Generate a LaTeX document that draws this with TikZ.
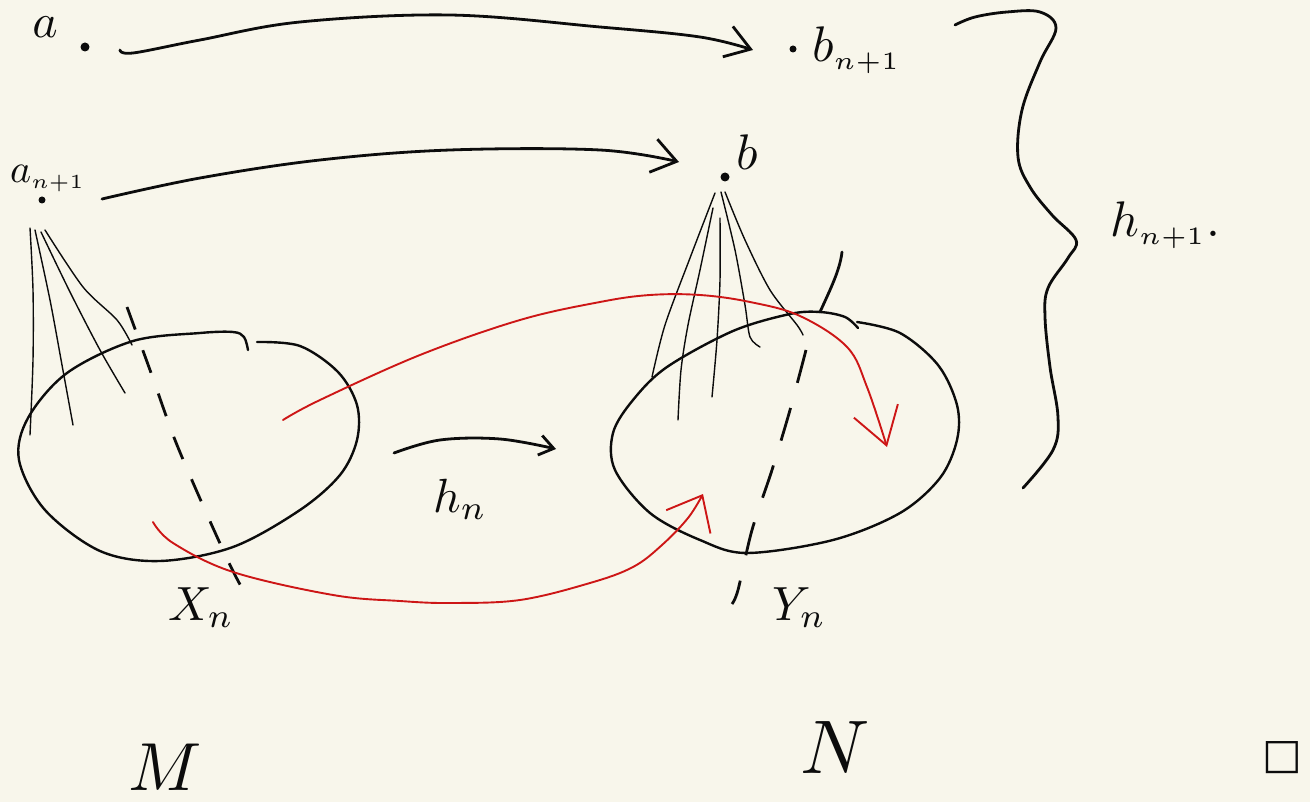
\documentclass[tikz,border=0pt]{standalone}
\usepackage{fontspec}
\usepackage{graphicx}
\usetikzlibrary{arrows.meta}
\newfontfamily\symfont{DejaVu Sans}
\definecolor{paper}{RGB}{248,246,235}
\definecolor{pen}{RGB}{12,12,12}
\definecolor{redpen}{RGB}{205,22,22}
\newcommand{\sz}[2]{\scalebox{#1}{#2}}
\tikzset{
  ink/.style={draw=pen, line width=2.8pt, line cap=round, line join=round},
  thinink/.style={draw=pen, line width=1.4pt, line cap=round, line join=round},
  redink/.style={draw=redpen, line width=1.9pt, line cap=round, line join=round},
  dashink/.style={ink, line cap=butt, dash pattern=on 24pt off 22pt},
  dotnode/.style={circle, fill=pen, inner sep=0pt, minimum size=8pt},
  lab/.style={inner sep=0pt, text=pen}
}
\begin{document}
\begin{tikzpicture}[x=1pt,y=-1pt]
\fill[paper] (0,0) rectangle (1310,802);
\useasboundingbox (0,0) rectangle (1310,802);

% points
\node[dotnode, minimum size=9pt] (adot) at (85,47) {};
\node[dotnode, minimum size=7pt] (bndot) at (793,49) {};
\node[dotnode, minimum size=7pt] (andot) at (42,200) {};
\node[dotnode, minimum size=9pt] (bdot) at (725,177) {};

% labels
\node[lab, anchor=base] (alab) at (45,38) {\sz{4.8}{$a$}};
\node[lab, anchor=base west] (bnlab) at (812,62) {\sz{5}{$b_{\scriptscriptstyle n{+}1}$}};
\node[lab, anchor=base west] (anlab) at (10,183) {\sz{4}{$a_{\scriptscriptstyle n{+}1}$}};
\node[lab, anchor=base west] (blab) at (736,170) {\sz{5}{$b$}};
\node[lab, anchor=base west] (hnlab) at (1110,237) {\sz{5}{$h_{\scriptscriptstyle n{+}1}.$}};
\node[lab, anchor=base west] (hlab) at (433,512) {\sz{4.8}{$h_n$}};
\node[lab, anchor=base west] (Xlab) at (168,620) {\sz{4.8}{$X_n$}};
\node[lab, anchor=base west] (Ylab) at (772,620) {\sz{4.8}{$Y_n$}};
\node[lab, anchor=base west] (Mlab) at (128,790) {\sz{6.8}{$M$}};
\node[lab, anchor=base west] (Nlab) at (800,773) {\sz{7.6}{$N$}};
\node[lab] (qed) at (1282,758) {\sz{4.2}{\symfont □}};

% top arrows
\coordinate (t1s) at (120,50);
\coordinate (t1e) at (753,50);
\draw[ink, -{Straight Barb[length=24pt, width=32pt]}]
  plot[smooth, tension=0.6] coordinates {(t1s) (133,53) (200,40) (300,22) (450,15) (600,27) (700,37) (t1e)};
\coordinate (t2s) at (102,199);
\coordinate (t2e) at (679,162);
\draw[ink, -{Straight Barb[length=24pt, width=34pt]}]
  plot[smooth, tension=0.6] coordinates {(t2s) (200,178) (320,160) (450,150) (600,150) (t2e)};

% brace
\draw[ink] plot[smooth, tension=0.6] coordinates {(955,25) (975,17) (1007,12) (1040,12) (1056,28) (1040,62) (1022,110) (1018,157) (1030,187) (1052,215) (1076,240) (1068,258) (1048,288) (1045,317) (1050,367) (1058,417) (1053,450) (1023,488)};

% left ellipse X_n (with small gap at top)
\draw[ink, line width=2.4pt] plot[smooth, tension=0.55] coordinates {(257,342) (300,346) (338,372) (357,405) (357,440) (340,475) (300,510) (233,547) (160,561) (100,551) (45,510) (19,460) (28,418) (67,373) (133,341) (200,333) (233,332) (244,337) (248,350)};

% right ellipse Y_n (with small notch at top)
\draw[ink, line width=2.4pt] plot[smooth, tension=0.55] coordinates {(857,322) (900,333) (938,365) (957,405) (957,440) (940,478) (900,513) (833,540) (747,553) (700,540) (650,513) (615,470) (613,433) (633,400) (667,367) (733,331) (790,314) (820,312) (845,317) (858,328)};

% dashed cuts
\draw[dashink] plot[smooth] coordinates {(127,307) (150,370) (175,440) (205,510) (230,565) (243,590)};
\draw[dashink, dash pattern=on 34pt off 26pt] plot[smooth] coordinates {(806,350) (790,410) (772,470) (752,530) (738,590) (732,604)};
\draw[ink] (820,312) .. controls (830,290) and (840,270) .. (842,252);

% fan from a_{n+1}
\draw[thinink] plot[smooth] coordinates {(30,228) (33,290) (33,360) (30,435)};
\draw[thinink] plot[smooth] coordinates {(35,230) (50,300) (62,365) (73,425)};
\draw[thinink] plot[smooth] coordinates {(41,232) (70,292) (100,350) (125,393)};
\draw[thinink] plot[smooth] coordinates {(45,230) (83,287) (117,320) (132,345)};

% fan from b
\draw[thinink] plot[smooth] coordinates {(715,193) (690,258) (665,325) (652,377)};
\draw[thinink] plot[smooth] coordinates {(713,208) (700,270) (688,325) (681,370) (678,420)};
\draw[thinink] plot[smooth] coordinates {(720,218) (720,280) (717,340) (712,397)};
\draw[thinink] plot[smooth] coordinates {(721,192) (735,250) (745,305) (750,337) (760,347)};
\draw[thinink] plot[smooth] coordinates {(725,192) (745,240) (770,290) (797,325) (803,335)};

% h_n arrow
\coordinate (hs) at (394,453);
\coordinate (he) at (556,449);
\draw[ink, -{Straight Barb[length=14pt, width=20pt]}]
  plot[smooth, tension=0.6] coordinates {(hs) (440,440) (500,439) (he)};

% red arrows
\coordinate (r1s) at (283,420);
\coordinate (r1e) at (887,447);
\draw[redink, -{Straight Barb[length=36pt, width=46pt]}]
  plot[smooth, tension=0.6] coordinates {(r1s) (320,400) (420,355) (520,320) (600,302) (650,295) (700,295) (750,302) (800,316) (847,347) (867,387) (r1e)};
\coordinate (r2s) at (153,522);
\coordinate (r2e) at (703,494);
\draw[redink, -{Straight Barb[length=30pt, width=50pt]}]
  plot[smooth, tension=0.6] coordinates {(r2s) (173,543) (233,572) (333,595) (400,601) (450,603) (520,600) (590,583) (633,567) (662,545) (688,518) (r2e)};
\end{tikzpicture}
\end{document}
